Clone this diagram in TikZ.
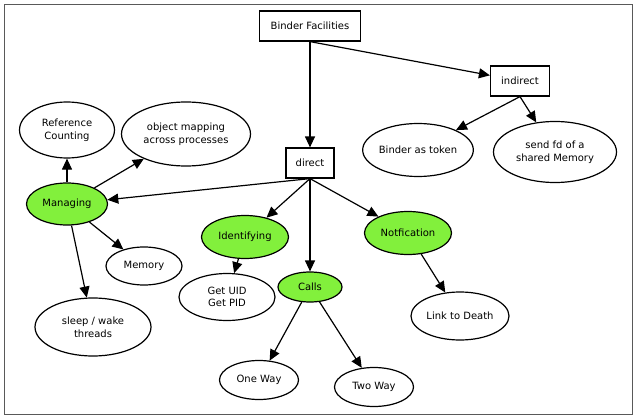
\documentclass[tikz,border=0pt]{standalone}
\usepackage{fontspec}
\setmainfont{DejaVu Sans}
\usetikzlibrary{shapes.geometric,arrows.meta}
\definecolor{leafgreen}{RGB}{130,240,60}
\begin{document}
\begin{tikzpicture}[x=1pt,y=-1pt,font=\fontsize{10}{12.7}\selectfont]
        \tikzstyle{every node}=[draw,line width=1.2pt,inner sep=0pt,align=center]
        \tikzstyle{facility}=[rectangle,minimum height=30pt]
        \tikzstyle{topic}=[ellipse]
        \tikzstyle{group}=[ellipse,fill=leafgreen]
        \tikzstyle{link}=[line width=1.2pt,-{Triangle[length=11pt,width=10pt]}]
        \useasboundingbox (0,0) rectangle (637,420);
        \draw[gray!70!black,line width=0.8pt] (4,4) rectangle (632,414);
        % boxes
        \node[facility,minimum width=101pt] (binder) at (310,26) {Binder Facilities};
        \node[facility,minimum width=59pt] (indirect) at (520,81) {indirect};
        \node[facility,minimum width=48pt] (direct) at (310,163) {direct};
        % indirect branch
        \node[topic,minimum width=109pt,minimum height=53pt] (token) at (418,150) {Binder as token};
        \node[topic,minimum width=123pt,minimum height=61pt] (sendfd) at (555,152) {send fd of a\\shared Memory};
        % direct branch
        \node[group,minimum width=81pt,minimum height=42pt] (managing) at (67,204) {Managing};
        \node[group,minimum width=87pt,minimum height=43pt] (identifying) at (245,237) {Identifying};
        \node[group,minimum width=64pt,minimum height=30pt] (calls) at (310,287) {Calls};
        \node[group,minimum width=87pt,minimum height=43pt] (notfication) at (408,233) {Notfication};
        % leaves
        \node[topic,minimum width=95pt,minimum height=56pt] (refcount) at (67,130) {Reference\\Counting};
        \node[topic,minimum width=129pt,minimum height=64pt] (objmap) at (186,134) {object mapping\\across processes};
        \node[topic,minimum width=76pt,minimum height=38pt] (memory) at (144,266) {Memory};
        \node[topic,minimum width=116pt,minimum height=58pt] (sleep) at (93,327) {sleep / wake\\threads};
        \node[topic,minimum width=96pt,minimum height=47pt] (getid) at (227,297) {Get UID\\Get PID};
        \node[topic,minimum width=79pt,minimum height=39pt] (oneway) at (259,380) {One Way};
        \node[topic,minimum width=79pt,minimum height=39pt] (twoway) at (374,387) {Two Way};
        \node[topic,minimum width=98pt,minimum height=48pt] (death) at (460,316) {Link to Death};
        % connectors
        \draw[link] (binder.south) -- (direct);
        \draw[link] (binder.south) -- (indirect);
        \draw[link] (indirect.south) -- (token);
        \draw[link] (indirect.south) -- (sendfd);
        \draw[link] (direct.south) -- (managing);
        \draw[link] (direct.south) -- (identifying);
        \draw[link] (direct.south) -- (calls);
        \draw[link] (direct.south) -- (notfication);
        \draw[link] (managing) -- (refcount);
        \draw[link] (managing) -- (objmap);
        \draw[link] (managing) -- (memory);
        \draw[link] (managing) -- (sleep);
        \draw[link] (identifying) -- (getid);
        \draw[link] (calls) -- (oneway);
        \draw[link] (calls) -- (twoway);
        \draw[link] (notfication) -- (death);
    \end{tikzpicture}
\end{document}
